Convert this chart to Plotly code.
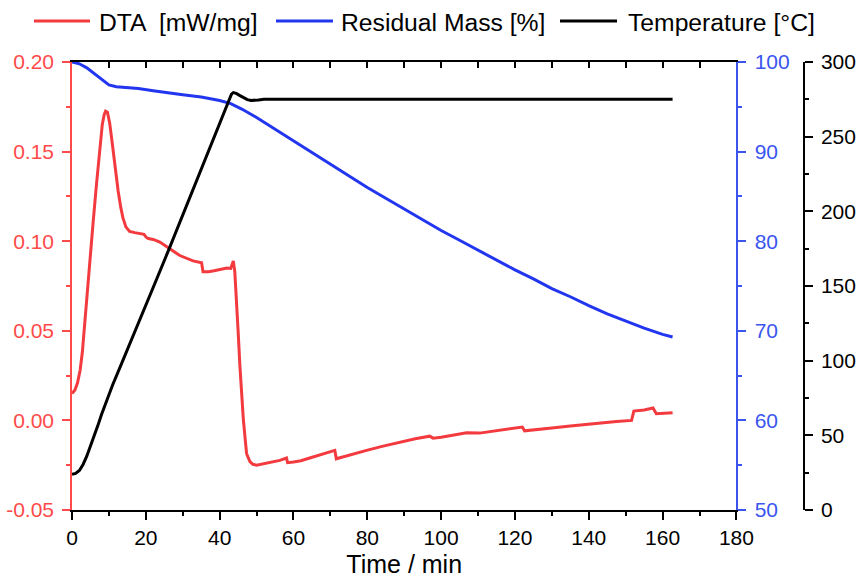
import plotly.graph_objects as go

# ---- data ----
dta_t = [0, 0.8, 1.5, 2.2, 2.8, 3.4, 3.9, 4.8, 5.7, 6.6, 7.5, 8.2, 8.7, 9.1, 9.6, 10.2, 10.7,
         11.5, 12.5, 13.2, 13.8, 14.6, 15.6, 17, 18.3, 19.5, 20.2, 20.7, 22, 23.8, 26.5, 29.2,
         32.8, 35.1, 35.5, 37, 38.5, 40, 42, 43.0, 43.4, 43.7, 44.1, 44.5, 45, 45.5, 46, 46.4,
         46.9, 47.3, 48.2, 49, 50, 52.7, 54.5, 56.3, 58.1, 58.4, 60, 62, 64.4, 67, 69, 71.2,
         71.6, 74, 76, 79.8, 84, 88.8, 93, 96.9, 97.8, 100, 103, 106.9, 110.4, 115.9, 119,
         122, 122.6, 125, 130, 135, 140, 144, 147.5, 151.6, 152.2, 155, 157.4, 158.3, 160, 162.7]
dta_v = [0.015, 0.017, 0.021, 0.028, 0.038, 0.053, 0.069, 0.091, 0.110, 0.131, 0.151, 0.165, 0.1705, 0.1726, 0.172, 0.166, 0.158,
         0.143, 0.128, 0.119, 0.113, 0.108, 0.1055, 0.1048, 0.1043, 0.1038, 0.102, 0.1015, 0.101, 0.0995, 0.0958, 0.092,
         0.089, 0.088, 0.083, 0.083, 0.0835, 0.084, 0.085, 0.0848, 0.0875, 0.089, 0.083, 0.070, 0.050, 0.030, 0.012, 0.001,
         -0.010, -0.0186, -0.023, -0.0245, -0.025, -0.0238, -0.0232, -0.0223, -0.021, -0.0236, -0.0232, -0.0225, -0.021, -0.0195, -0.018, -0.0167,
         -0.0214, -0.020, -0.0185, -0.0167, -0.0145, -0.0121, -0.0102, -0.0088, -0.0099, -0.0094, -0.0083, -0.0069, -0.0071, -0.0056, -0.0047,
         -0.0037, -0.0058, -0.0054, -0.0042, -0.0031, -0.002, -0.0012, -0.0006, 0.0, 0.0052, 0.0058, 0.0069, 0.0037, 0.0038, 0.0043]

mass_t = [0, 2, 4, 6, 8, 10, 12, 15, 18, 22, 26, 30, 35, 40, 43, 46, 50, 55, 60, 65, 70, 75, 80,
          85, 90, 95, 100, 105, 110, 115, 120, 125, 130, 135, 140, 145, 150, 155, 160, 162.7]
mass_v = [100, 99.8, 99.35, 98.7, 98.0, 97.45, 97.25, 97.15, 97.05, 96.8, 96.55, 96.35, 96.1, 95.7, 95.35, 94.75, 93.8, 92.5, 91.2, 89.9, 88.6, 87.3, 86.0,
          84.8, 83.6, 82.4, 81.2, 80.1, 79.0, 77.9, 76.8, 75.8, 74.7, 73.8, 72.8, 71.9, 71.1, 70.3, 69.6, 69.3]

temp_t = [0, 1, 2, 3, 4, 5, 6, 7, 8, 9, 10, 11, 13, 16, 20, 23, 26.5, 30, 34, 38, 40, 41, 42, 42.7, 43.2,
          43.7, 44.5, 45.5, 46.5, 47.5, 48.5, 49.5, 50.5, 52, 60, 80, 100, 120, 140, 162.7]
temp_v = [24, 24.5, 26.5, 30.5, 36, 42.5, 49.5, 56.5, 64, 71, 77.5, 83.7, 95.5, 113, 137, 155, 176, 197.5, 221, 245.5, 258, 264.5, 271, 275.5, 278.5,
          279.5, 279, 277.5, 276, 274.8, 274.2, 274.2, 274.6, 275, 275, 275, 275, 275, 275, 275]

series_names = ["DTA  [mW/mg]", "Residual Mass [%]", "Temperature [°C]"]
dta_ticks = [-0.05, 0.0, 0.05, 0.10, 0.15, 0.20]
dta_ticktext = ["-0.05", "0.00", "0.05", "0.10", "0.15", "0.20"]

RED = "#F23A3F"
BLUE = "#2236F0"
RED_AX = "#FF4A4A"
BLUE_AX = "#3A55EE"
FONT = "Liberation Sans, Arial, sans-serif"
W, H = 856, 583
ML, MR, MT, MB = 72, 52, 62, 73

fig = go.Figure()
fig.add_trace(go.Scatter(x=dta_t, y=dta_v, mode="lines", name=series_names[0],
                         line=dict(color=RED, width=3), yaxis="y"))
fig.add_trace(go.Scatter(x=mass_t, y=mass_v, mode="lines", name=series_names[1],
                         line=dict(color=BLUE, width=3), yaxis="y2"))
fig.add_trace(go.Scatter(x=temp_t, y=temp_v, mode="lines", name=series_names[2],
                         line=dict(color="black", width=3), yaxis="y3"))
# dummy trace for top mirrored axis
fig.add_trace(go.Scatter(x=[], y=[], xaxis="x2", yaxis="y", showlegend=False, hoverinfo="skip"))

# ---- manual legend (long sample lines, as in the reference) ----
def px2paper_x(px):
    return (px - ML) / (W - ML - MR)

def px2paper_y(py):
    return (H - MB - py) / (H - MT - MB)

legend_items = [  # (line start px, line end px, text start px, colour)
    (34, 90, 97, RED),
    (276, 333, 339, BLUE),
    (560, 617, 626, "black"),
]
leg_y = 21
shapes = []
annotations = []
for (x0, x1, xt, col), name in zip(legend_items, series_names):
    shapes.append(dict(type="line", xref="paper", yref="paper",
                       x0=px2paper_x(x0), x1=px2paper_x(x1),
                       y0=px2paper_y(leg_y), y1=px2paper_y(leg_y),
                       line=dict(color=col, width=3)))
    annotations.append(dict(text=name, xref="paper", yref="paper",
                            x=px2paper_x(xt), y=px2paper_y(leg_y + 1),
                            xanchor="left", yanchor="middle", showarrow=False,
                            font=dict(size=24.7, color="black", family=FONT)))

fig.update_layout(
    width=W, height=H,
    margin=dict(l=ML, r=MR, t=MT, b=MB, autoexpand=False),
    paper_bgcolor="white", plot_bgcolor="white",
    font=dict(family=FONT, size=21, color="black"),
    showlegend=False,
    shapes=shapes, annotations=annotations,
    xaxis=dict(domain=[0, 0.9077], range=[0, 180], dtick=20, tick0=0,
               ticks="outside", ticklen=8, tickwidth=1.5, tickcolor="black",
               minor=dict(ticks="outside", ticklen=4, dtick=10, tickwidth=1.5, tickcolor="black"),
               showline=True, linecolor="black", linewidth=1.5, automargin=False,
               showgrid=False, zeroline=False, tickfont=dict(size=21),
               title=dict(text="Time / min", font=dict(size=25), standoff=8), anchor="y"),
    xaxis2=dict(overlaying="x", side="top", range=[0, 180], dtick=10, tick0=0,
                ticks="inside", ticklen=6, tickwidth=1.5, tickcolor="black",
                showticklabels=False, showline=True, linecolor="black", linewidth=1.5,
                showgrid=False, zeroline=False, anchor="y", automargin=False),
    yaxis=dict(range=[-0.05, 0.20], tickvals=dta_ticks, ticktext=dta_ticktext,
               ticks="outside", ticklen=8, tickwidth=1.5, tickcolor=RED_AX,
               minor=dict(ticks="outside", ticklen=4, dtick=0.025, tick0=0, tickwidth=1.5, tickcolor=RED_AX),
               showline=True, linecolor=RED_AX, linewidth=1.5, automargin=False,
               ticklabelstandoff=4,
               showgrid=False, zeroline=False, tickfont=dict(color=RED_AX, size=21)),
    yaxis2=dict(overlaying="y", side="right", anchor="x", range=[50, 100], dtick=10, tick0=50,
                ticks="outside", ticklen=8, tickwidth=1.5, tickcolor=BLUE_AX,
                minor=dict(ticks="outside", ticklen=4, dtick=5, tick0=50, tickwidth=1.5, tickcolor=BLUE_AX),
                showline=True, linecolor=BLUE_AX, linewidth=2, automargin=False,
                ticklabelstandoff=4,
                showgrid=False, zeroline=False, tickfont=dict(color=BLUE_AX, size=21)),
    yaxis3=dict(overlaying="y", side="right", anchor="free", position=1.0, range=[0, 300], dtick=50, tick0=0,
                ticks="outside", ticklen=8, tickwidth=1.5, tickcolor="black",
                minor=dict(ticks="outside", ticklen=4, dtick=25, tick0=0, tickwidth=1.5, tickcolor="black"),
                showline=True, linecolor="black", linewidth=1.5, automargin=False,
                ticklabelstandoff=4,
                showgrid=False, zeroline=False, tickfont=dict(color="black", size=21)),
)

fig.write_html("out.html")
